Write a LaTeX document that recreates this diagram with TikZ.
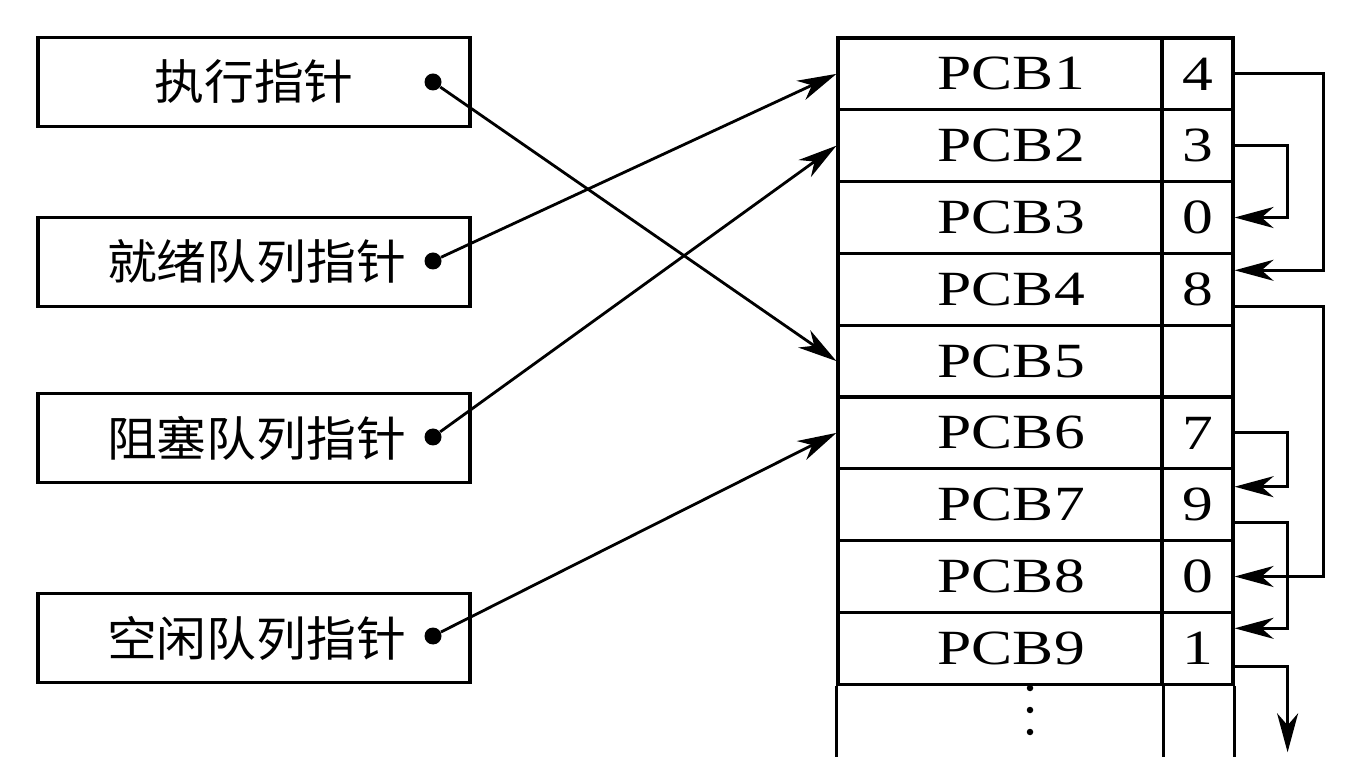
\documentclass[tikz,border=0pt]{standalone}
\usepackage{fontspec}
\usepackage{tikz}
\usetikzlibrary{arrows.meta,positioning}
\newfontfamily\cjk[FakeStretch=1.05]{Noto Sans CJK SC}
\newfontfamily\pcbfont[FakeStretch=1.25]{Liberation Serif}
\begin{document}
\begin{tikzpicture}[
  ptr/.style={draw,line width=1.8pt,minimum width=8.64cm,minimum height=1.78cm,
              inner sep=0pt,font=\cjk\fontsize{27}{30}\selectfont},
  pcb/.style={draw,line width=1.8pt,minimum width=6.48cm,minimum height=1.436cm,
              inner sep=0pt,font=\pcbfont\fontsize{28}{30}\selectfont},
  nx/.style={draw,line width=1.8pt,minimum width=1.42cm,minimum height=1.436cm,
             inner sep=0pt,font=\pcbfont\fontsize{28}{30}\selectfont},
  dot/.style={circle,fill,inner sep=0pt,minimum size=0.34cm},
  a/.style={-{Stealth[length=7.8mm,width=4.2mm,inset=2.4mm]},line width=1.6pt}]
\useasboundingbox (0,0) rectangle (27.16,-15.34);

% pointer boxes
\node[ptr] (run)   at (5.08,-1.64)  {执行指针};
\node[ptr] (ready) at (5.08,-5.24)  {\hspace*{0.1cm}就绪队列指针};
\node[ptr] (block) at (5.08,-8.76)  {\hspace*{0.1cm}阻塞队列指针};
\node[ptr] (free)  at (5.08,-12.76) {\hspace*{0.1cm}空闲队列指针};
\node[dot] (d1) at (8.66,-1.64)  {};
\node[dot] (d2) at (8.66,-5.22)  {};
\node[dot] (d3) at (8.66,-8.74)  {};
\node[dot] (d4) at (8.66,-12.72) {};

% PCB table
\foreach \i/\n in {1/4,2/3,3/0,4/8,5/,6/7,7/9,8/0,9/1}{
  \node[pcb] (p\i) at (20.00,-0.76-1.436*\i+0.718) {\hspace*{0.45cm}PCB\i};
  \node[nx]  (n\i) at (23.95,-0.76-1.436*\i+0.718) {\n};
}
\draw[line width=1.8pt] (p9.south west) -- ++(0,-1.42)
  (p9.south east) -- ++(0,-1.42) (n9.south east) -- ++(0,-1.42);
\foreach \y in {-13.76,-14.20,-14.64}
  \fill (20.60,\y) circle (0.065);

% pointers into the table
\draw[a] (d1) -- (p5.west);
\draw[a] (d2) -- (p1.west);
\draw[a] (d3) -- (p2.west);
\draw[a] (d4) -- (p6.west);

% links between PCBs
\draw[a] (n1.east) -- ++(1.78,0) |- ([yshift=0.38cm]n4.east);
\draw[a] (n2.east) -- ++(1.06,0) |- (n3.east);
\draw[a] ([yshift=-0.34cm]n4.east) -- ++(1.78,0) |- (n8.east);
\draw[a] (n6.east) -- ++(1.06,0) |- ([yshift=0.36cm]n7.east);
\draw[a] ([yshift=-0.36cm]n7.east) -- ++(1.06,0) |- ([yshift=0.40cm]n9.east);
\draw[a] ([yshift=-0.36cm]n9.east) -- ++(1.06,0) -- ++(0,-1.72);
\end{tikzpicture}
\end{document}
